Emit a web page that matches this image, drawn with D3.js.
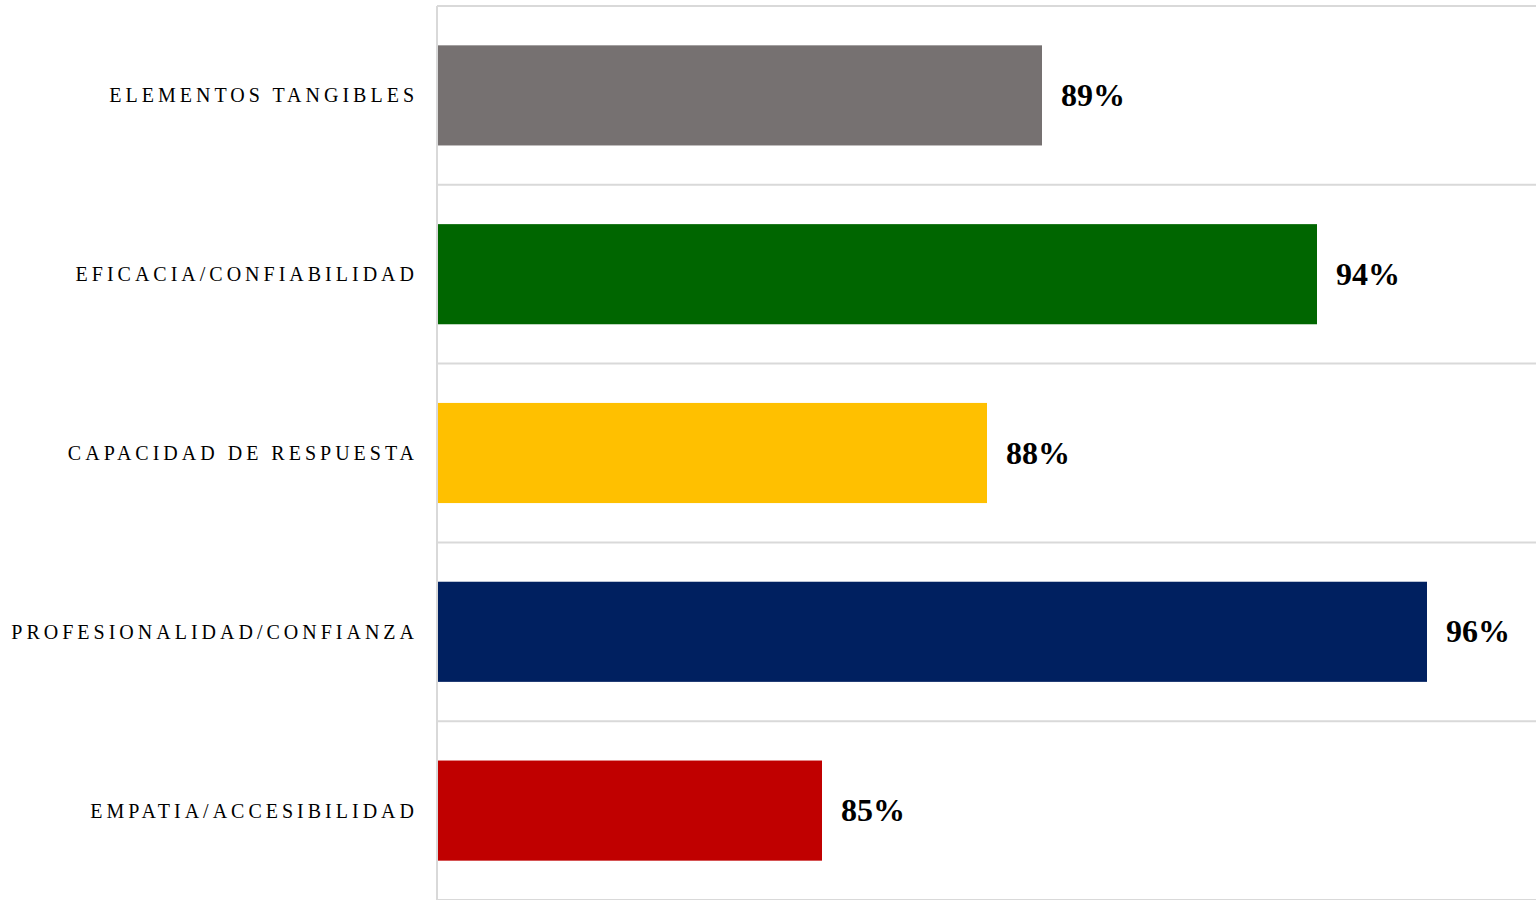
<!DOCTYPE html>
<html>
<head>
<meta charset="utf-8">
<script src="https://cdn.jsdelivr.net/npm/d3@7"></script>
<style>
  html, body { margin: 0; padding: 0; background: #ffffff; }
  svg { display: block; }
</style>
</head>
<body>
<script>
// Service-quality dimensions and their satisfaction scores (%)
const categories = [
  "ELEMENTOS TANGIBLES",
  "EFICACIA/CONFIABILIDAD",
  "CAPACIDAD DE RESPUESTA",
  "PROFESIONALIDAD/CONFIANZA",
  "EMPATIA/ACCESIBILIDAD"
];
const values = [89, 94, 88, 96, 85];
const barColors = ["#767171", "#006600", "#FFC000", "#002060", "#C00000"];

const width = 1536, height = 900;
const margin = { top: 6, right: -1, bottom: 0, left: 437 };

const svg = d3.select("body").append("svg")
  .attr("width", width)
  .attr("height", height);

const x = d3.scaleLinear()
  .domain([78, 98])
  .range([margin.left, width - margin.right]);

const y = d3.scaleBand()
  .domain(categories)
  .range([margin.top, height - margin.bottom])
  .paddingInner(0.44)
  .paddingOuter(0.22);

const step = y.step();
const bandEdges = d3.range(categories.length + 1).map(i => margin.top + i * step);

// Horizontal separators between categories
svg.append("g")
  .selectAll("line")
  .data(bandEdges)
  .join("line")
  .attr("x1", margin.left)
  .attr("x2", width)
  .attr("y1", d => d)
  .attr("y2", d => d)
  .attr("stroke", "#d9d9d9")
  .attr("stroke-width", 2);

// Bars
svg.append("g")
  .selectAll("rect")
  .data(categories)
  .join("rect")
  .attr("x", x(78))
  .attr("y", d => y(d))
  .attr("width", (d, i) => x(values[i]) - x(78))
  .attr("height", y.bandwidth())
  .attr("fill", (d, i) => barColors[i]);

// Category axis line
svg.append("line")
  .attr("x1", margin.left)
  .attr("x2", margin.left)
  .attr("y1", margin.top)
  .attr("y2", height)
  .attr("stroke", "#d9d9d9")
  .attr("stroke-width", 2);

// Category labels
const labelSpacing = 4;
svg.append("g")
  .selectAll("text")
  .data(categories)
  .join("text")
  .attr("x", margin.left - 23 + labelSpacing)
  .attr("y", d => y(d) + y.bandwidth() / 2)
  .attr("dy", "0.35em")
  .attr("text-anchor", "end")
  .style("font-family", "'Liberation Serif', 'Times New Roman', serif")
  .style("font-size", "20px")
  .style("letter-spacing", labelSpacing + "px")
  .attr("fill", "#000")
  .text(d => d);

// Value labels
svg.append("g")
  .selectAll("text")
  .data(categories)
  .join("text")
  .attr("x", (d, i) => x(values[i]) + 19)
  .attr("y", d => y(d) + y.bandwidth() / 2)
  .attr("dy", "0.33em")
  .style("font-family", "'Liberation Serif', 'Times New Roman', serif")
  .style("font-size", "32px")
  .style("font-weight", "bold")
  .attr("fill", "#000")
  .text((d, i) => values[i] + "%");
</script>
</body>
</html>
